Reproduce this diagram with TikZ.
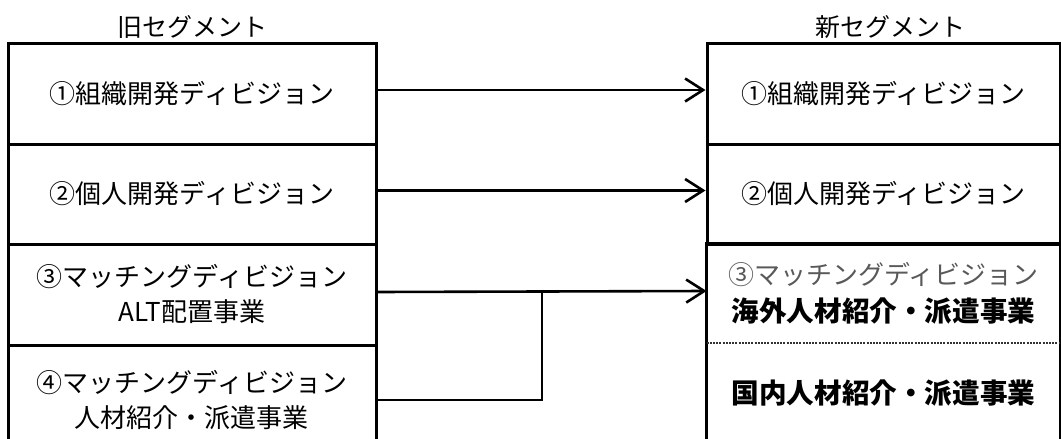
\documentclass[tikz,border=0pt]{standalone}
\usepackage{fontspec}
\setmainfont{Noto Sans CJK JP}
\usetikzlibrary{arrows.meta,calc}
\begin{document}
\begin{tikzpicture}[x=0.5pt,y=-0.5pt,
  boxline/.style={line width=1.5pt},
  lbox/.style={draw,boxline,inner sep=0pt,minimum width=184pt,align=center,font=\fontsize{13pt}{17.5pt}\selectfont},
  rbox/.style={inner sep=0pt,minimum width=176.5pt,align=center,font=\fontsize{13pt}{18.5pt}\selectfont},
  title/.style={inner sep=0pt,font=\fontsize{12.5pt}{15pt}\selectfont},
  conn/.style={line width=1.3pt},
  arr/.style={conn,-{Straight Barb[length=9pt,width=11.5pt]}},
  sep/.style={line width=1pt,black!80,dash pattern=on 1pt off 0.6pt}]
\useasboundingbox (0,0) rectangle (1061,439);
\clip (0,0) rectangle (1061,439);
% titles
\node[title] (tl) at (192,27) {旧セグメント};
\node[title] (tr) at (890,27) {新セグメント};
% left column
\node[lbox,minimum height=50.5pt] (l1) at (192,93.5) {①組織開発ディビジョン};
\node[lbox,minimum height=50pt] (l2) at (192,194) {②個人開発ディビジョン};
\node[lbox,minimum height=50.5pt] (l3) at (192,294.5) {③マッチングディビジョン\\ALT配置事業};
\node[lbox,minimum height=55pt] (l4) at (192,400) {④マッチングディビジョン\\人材紹介・派遣事業};
% right column
\node[rbox,draw,boxline,minimum height=50.5pt] (r1) at (883.5,93.5) {①組織開発ディビジョン};
\node[rbox,draw,boxline,minimum height=50pt] (r2) at (883.5,194) {②個人開発ディビジョン};
\node[rbox,minimum height=49.5pt] (r3) at (883.5,293.5) {{\color{black!65}③マッチングディビジョン}\\\bfseries\fontsize{13.8pt}{18.5pt}\selectfont 海外人材紹介・派遣事業};
\node[rbox,minimum height=50pt] (r4) at (883.5,393) {\bfseries\fontsize{13.8pt}{18.5pt}\selectfont 国内人材紹介・派遣事業};
\draw[boxline] (r3.south west) -- (r3.north west) -- (r3.north east) -- (r3.south east);
\draw[boxline] (r4.north west) -- (r4.south west) -- (r4.south east) -- (r4.north east);
\draw[sep] (r3.south west) -- (r3.south east);
% connectors
\draw[arr] ([yshift=1.75pt]l1.east) -- ([yshift=1.75pt]r1.west);
\draw[arr] ([yshift=1.75pt]l2.east) -- ([yshift=1.75pt]r2.west);
\draw[arr] ([yshift=1.25pt]l3.east) -- ([yshift=1.25pt]r3.west);
\path ($(l3.east)!0.5!(r3.west)$) ++(0,-2.5) coordinate (j);
\draw[conn] (l4.east) -| (j);
\end{tikzpicture}
\end{document}
